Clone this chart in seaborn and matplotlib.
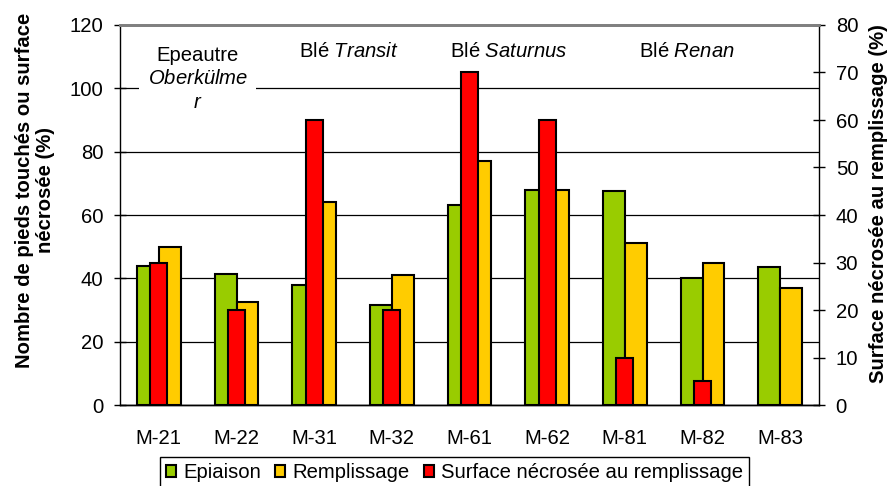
import numpy as np
import pandas as pd
import matplotlib
matplotlib.use("Agg")
import matplotlib.pyplot as plt
from matplotlib.patches import Patch
import seaborn as sns

# --- data -----------------------------------------------------------------
categories = ["M-21", "M-22", "M-31", "M-32", "M-61", "M-62", "M-81", "M-82", "M-83"]
epiaison = [44, 41.5, 38, 31.5, 63, 68, 67.5, 40, 43.5]
remplissage = [50, 32.5, 64, 41, 77, 68, 51, 45, 37]
surface_necrosee = [30, 20, 60, 20, 70, 60, 10, 5, np.nan]

series_names = ["Epiaison", "Remplissage", "Surface nécrosée au remplissage"]
group_labels = ["Epeautre\n$\\mathit{Oberkülme}$\n$\\mathit{r}$",
                "Blé $\\mathit{Transit}$",
                "Blé $\\mathit{Saturnus}$",
                "Blé $\\mathit{Renan}$"]
group_x = [0.5, 2.45, 4.5, 6.8]

left_ticks = [0, 20, 40, 60, 80, 100, 120]
right_ticks = [0, 10, 20, 30, 40, 50, 60, 70, 80]

# --- style ----------------------------------------------------------------
FS = 14.6
sns.set_style("white")
plt.rcParams["font.family"] = ["Liberation Sans", "DejaVu Sans"]
plt.rcParams["mathtext.fontset"] = "custom"
plt.rcParams["mathtext.rm"] = "Liberation Sans"
plt.rcParams["mathtext.it"] = "Liberation Sans:italic"
plt.rcParams["font.size"] = FS
for key in ("text.color", "axes.labelcolor", "xtick.color", "ytick.color",
            "xtick.labelcolor", "ytick.labelcolor"):
    plt.rcParams[key] = "black"

GREEN = "#99CC00"
YELLOW = "#FFCC00"
RED = "#FF0000"

fig = plt.figure(figsize=(8.93, 4.86), dpi=100)
ax = fig.add_axes([120 / 893, 1 - 405 / 486, (819 - 120) / 893, (405 - 25) / 486])

long_df = pd.DataFrame({
    "cat": categories * 2,
    "serie": [series_names[0]] * len(categories) + [series_names[1]] * len(categories),
    "val": epiaison + remplissage,
})

sns.barplot(data=long_df, x="cat", y="val", hue="serie", order=categories,
            hue_order=series_names[:2], palette=[GREEN, YELLOW], width=0.566,
            saturation=1, edgecolor="black", linewidth=1.5, legend=False, ax=ax)

ax2 = ax.twinx()
sns.barplot(x=categories, y=surface_necrosee, order=categories, color=RED,
            width=0.22, saturation=1, edgecolor="black", linewidth=1.5, ax=ax2)

# --- axes -----------------------------------------------------------------
ax.set_xlim(-0.5, len(categories) - 0.5)
ax2.set_xlim(-0.5, len(categories) - 0.5)
ax.set_ylim(0, 120)
ax2.set_ylim(0, 80)
ax.set_yticks(left_ticks)
ax2.set_yticks(right_ticks)
ax.set_xlabel("")
ax.set_ylabel("")
ax2.set_ylabel("")

ax.set_xticks(range(len(categories)))
ax.set_xticklabels(categories)
ax.set_xticks(np.arange(-0.5, len(categories), 1.0), minor=True)
ax.tick_params(axis="x", which="major", length=0, pad=17, labelsize=FS, labelcolor="black")
ax.tick_params(axis="x", which="minor", length=6, width=1, direction="out", color="black")
ax.tick_params(axis="y", direction="inout", length=8, width=1, color="black",
               pad=8, labelsize=FS, labelcolor="black")
ax2.tick_params(axis="y", direction="inout", length=8, width=1, color="black",
                pad=8, labelsize=FS, labelcolor="black")

ax.yaxis.grid(True, color="black", linewidth=0.9)
ax.set_axisbelow(True)
ax2.patch.set_visible(False)

for a in (ax, ax2):
    for side in ("left", "right", "bottom"):
        a.spines[side].set_color("black")
        a.spines[side].set_linewidth(1.0)
    a.spines["top"].set_color("#808080")
    a.spines["top"].set_linewidth(2.0)
ax2.spines["left"].set_visible(False)
ax.spines["right"].set_visible(False)

# --- variety labels ---------------------------------------------------------
for txt, xpos in zip(group_labels, group_x):
    multi = "\n" in txt
    ax.text(xpos, 103 if multi else 111.5, txt, ha="center", va="center",
            fontsize=FS, linespacing=1.3, zorder=5, color="black",
            bbox=dict(boxstyle="square,pad=0.4", facecolor="white", edgecolor="none"))

# --- axis titles --------------------------------------------------------------
fig.text(35 / 893, 1 - 190 / 486, "Nombre de pieds touchés ou surface\nnécrosée (%)",
         rotation=90, ha="center", va="center", fontsize=FS, fontweight="bold",
         multialignment="center", linespacing=1.15, color="black")
fig.text(879 / 893, 1 - 204 / 486, "Surface nécrosée au remplissage (%)",
         rotation=90, ha="center", va="center", fontsize=FS, fontweight="bold",
         color="black")

# --- legend -------------------------------------------------------------------
handles = [Patch(facecolor=c, edgecolor="black", linewidth=1.5) for c in (GREEN, YELLOW, RED)]
leg = fig.legend(handles, series_names, loc="upper center",
                 bbox_to_anchor=(454.5 / 893, 1 - 457 / 486), ncol=3, fontsize=FS,
                 frameon=True, fancybox=False, edgecolor="black", framealpha=1,
                 handlelength=0.5, handleheight=0.5, handletextpad=0.35,
                 columnspacing=0.7, borderpad=0.3, borderaxespad=0, labelcolor="black")
leg.get_frame().set_linewidth(1.0)

fig.savefig("out.png", dpi=100)
